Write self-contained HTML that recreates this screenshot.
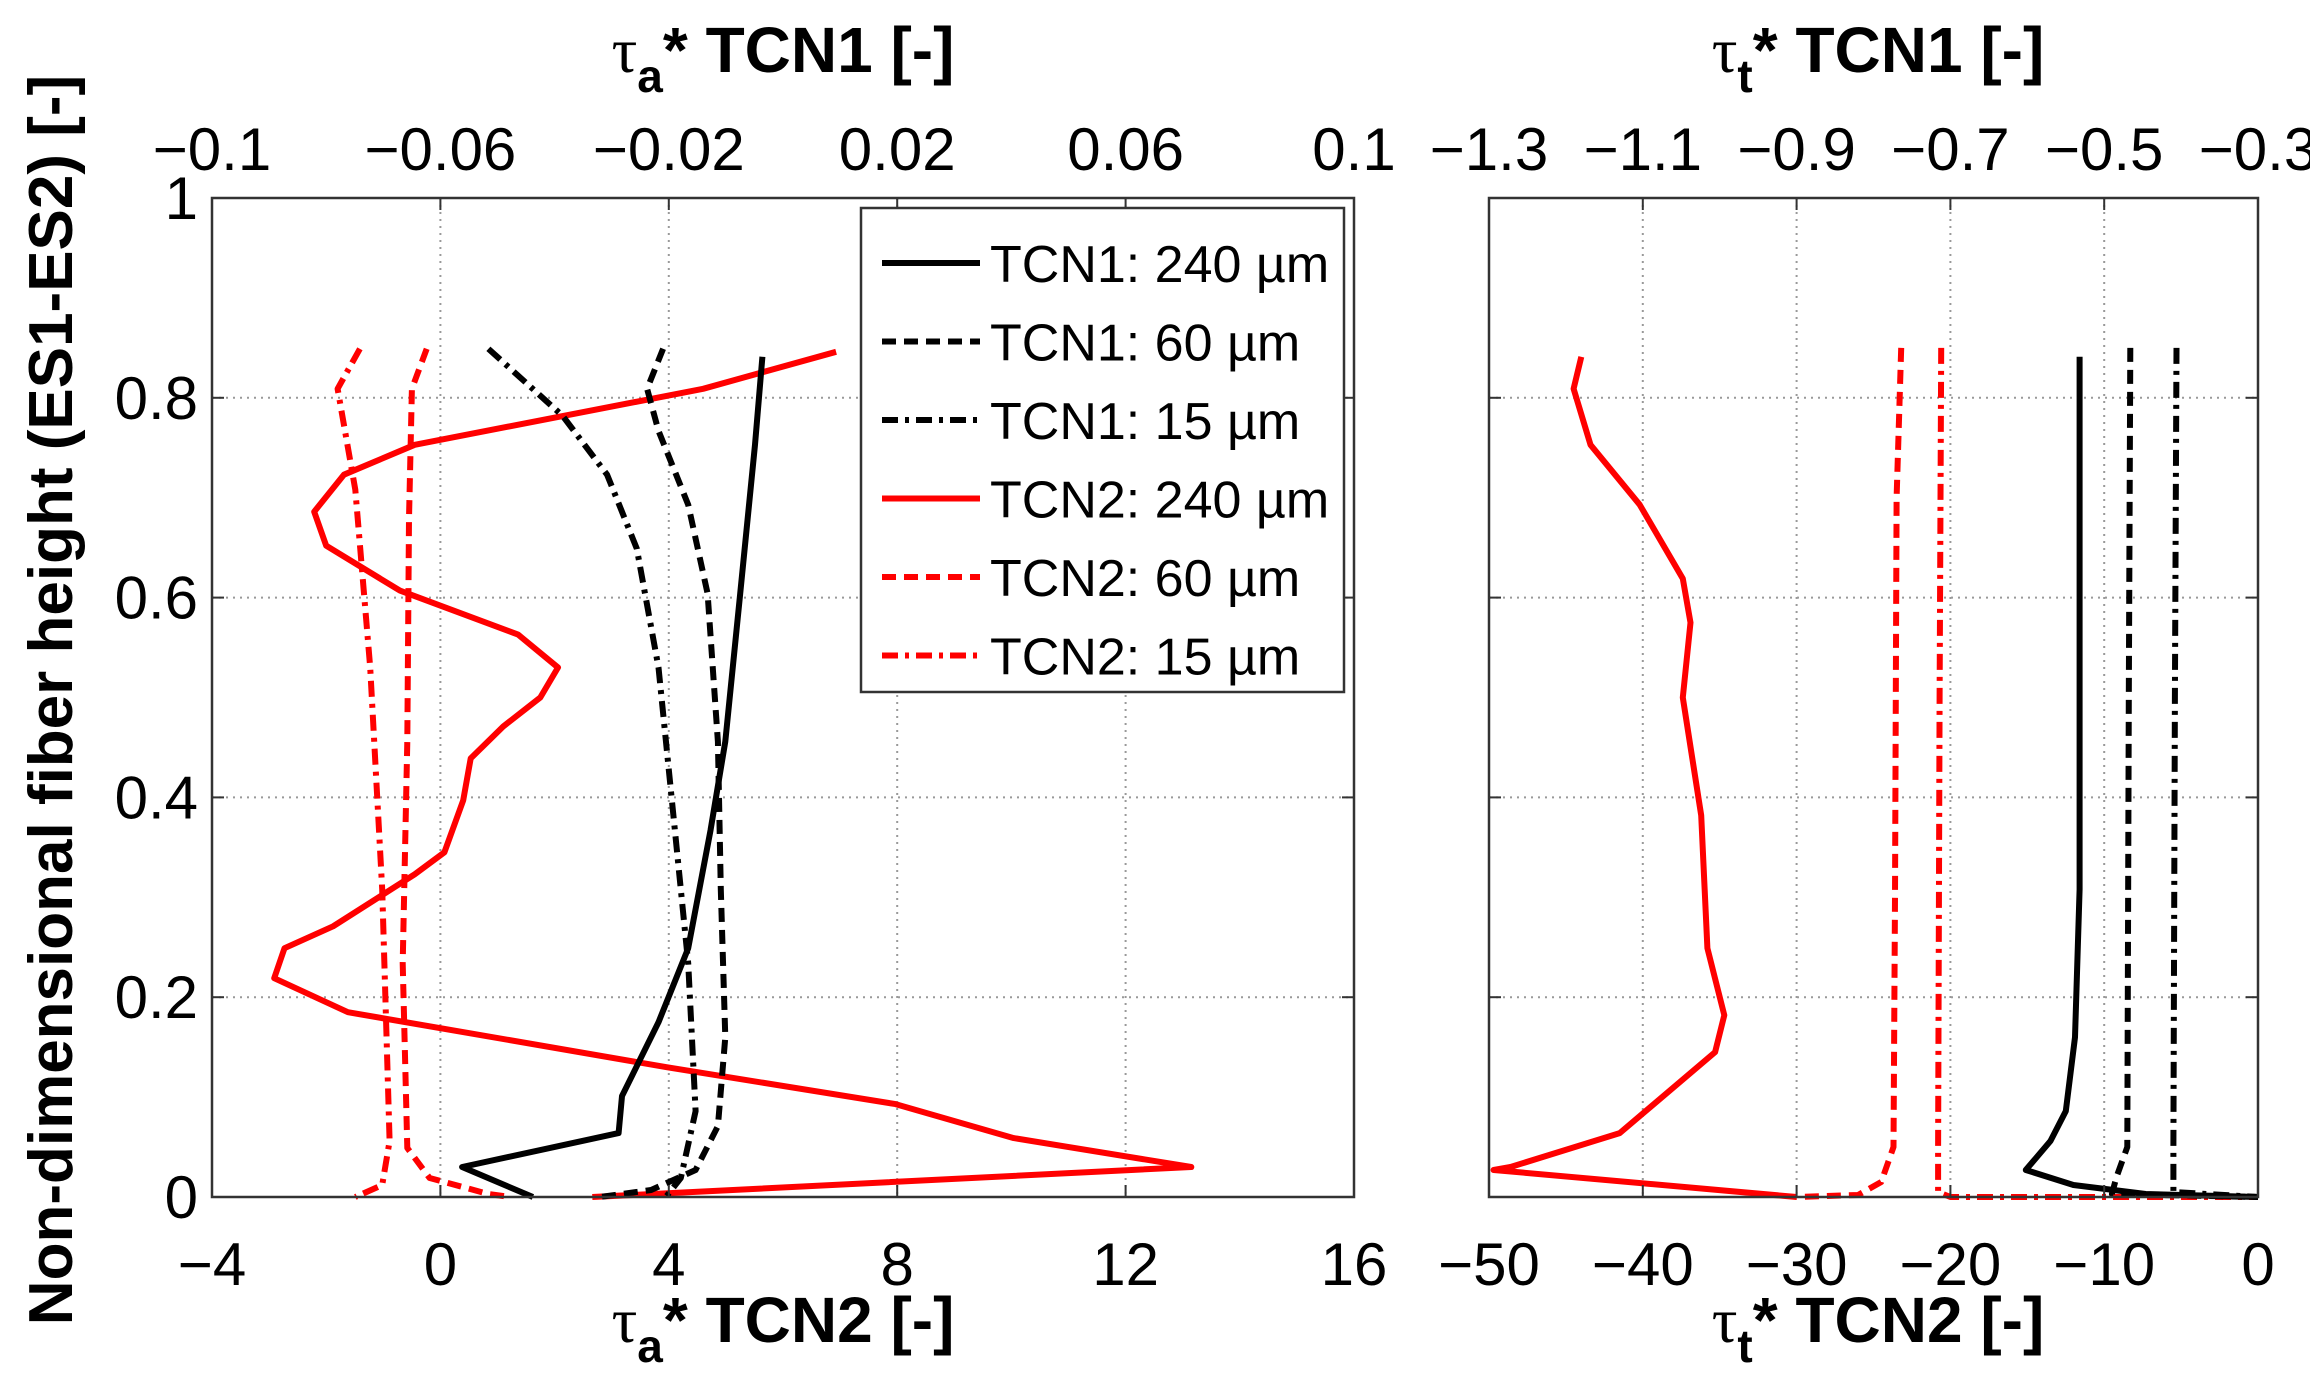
<!DOCTYPE html>
<html><head><meta charset="utf-8"><style>
html,body{margin:0;padding:0;background:#fff;}
svg{display:block;font-family:"Liberation Sans","DejaVu Sans",sans-serif;}
</style></head><body>
<svg id="chart" width="2310" height="1399" viewBox="0 0 2310 1399" xmlns="http://www.w3.org/2000/svg">
<rect width="2310" height="1399" fill="#fff"/>
<g id="grid"></g>
<g id="series"></g>
<g id="frames"></g>
<g id="ticks"></g>
<text transform="translate(72,700) rotate(-90)" text-anchor="middle" font-size="62" font-weight="bold">Non-dimensional fiber height (ES1-ES2) [-]</text>
<text x="783" y="72" text-anchor="middle" font-size="64" font-weight="bold"><tspan font-weight="normal" font-family="Liberation Serif, serif">τ</tspan><tspan dy="20" font-size="46">a</tspan><tspan dy="-20">* TCN1 [-]</tspan></text>
<text x="783" y="1342" text-anchor="middle" font-size="64" font-weight="bold"><tspan font-weight="normal" font-family="Liberation Serif, serif">τ</tspan><tspan dy="20" font-size="46">a</tspan><tspan dy="-20">* TCN2 [-]</tspan></text>
<text x="1878" y="72" text-anchor="middle" font-size="64" font-weight="bold"><tspan font-weight="normal" font-family="Liberation Serif, serif">τ</tspan><tspan dy="20" font-size="46">t</tspan><tspan dy="-20">* TCN1 [-]</tspan></text>
<text x="1878" y="1342" text-anchor="middle" font-size="64" font-weight="bold"><tspan font-weight="normal" font-family="Liberation Serif, serif">τ</tspan><tspan dy="20" font-size="46">t</tspan><tspan dy="-20">* TCN2 [-]</tspan></text>
<g id="legend"></g>
</svg>
<script>
// ---- data ----
const yTicks = [0, 0.2, 0.4, 0.6, 0.8, 1];
const yTickLabels = ["0", "0.2", "0.4", "0.6", "0.8", "1"];
const leftBottomTicks = [-4, 0, 4, 8, 12, 16];
const leftTopTicks = [-0.1, -0.06, -0.02, 0.02, 0.06, 0.1];
const leftTopLabels = ["\u22120.1", "\u22120.06", "\u22120.02", "0.02", "0.06", "0.1"];
const rightBottomTicks = [-50, -40, -30, -20, -10, 0];
const rightTopTicks = [-1.3, -1.1, -0.9, -0.7, -0.5, -0.3];
const rightTopLabels = ["\u22121.3", "\u22121.1", "\u22120.9", "\u22120.7", "\u22120.5", "\u22120.3"];
const legendLabels = ["TCN1: 240 \u00b5m", "TCN1: 60 \u00b5m", "TCN1: 15 \u00b5m", "TCN2: 240 \u00b5m", "TCN2: 60 \u00b5m", "TCN2: 15 \u00b5m"];

// left panel: TCN1 in top-axis units, TCN2 in bottom-axis units
const aT1_240_x = [-0.0036, -0.0049, -0.0075, -0.0101, -0.0127, -0.0166, -0.0218, -0.0282, -0.0288, -0.0562, -0.0438];
const aT1_240_y = [0.841, 0.753, 0.604, 0.456, 0.367, 0.249, 0.175, 0.101, 0.064, 0.030, 0];
const aT1_60_x = [-0.021, -0.0238, -0.0218, -0.0166, -0.0132, -0.0114, -0.0109, -0.0101, -0.0114, -0.0153, -0.0231, -0.0321];
const aT1_60_y = [0.849, 0.809, 0.767, 0.693, 0.604, 0.456, 0.308, 0.16, 0.071, 0.027, 0.007, 0];
const aT1_15_x = [-0.0516, -0.0386, -0.0308, -0.0256, -0.0218, -0.0192, -0.0166, -0.0153, -0.0179, -0.0205];
const aT1_15_y = [0.849, 0.782, 0.723, 0.649, 0.53, 0.382, 0.234, 0.086, 0.019, 0];
const aT2_240_x = [6.93, 4.6, -0.45, -1.69, -2.21, -2.0, -0.71, 1.36, 2.06, 1.75, 1.1, 0.53, 0.40, 0.07, -0.45, -1.88, -2.73, -2.91, -1.62, 3.95, 7.97, 10.04, 13.15, 2.66];
const aT2_240_y = [0.846, 0.809, 0.753, 0.723, 0.686, 0.652, 0.607, 0.563, 0.530, 0.50, 0.471, 0.439, 0.397, 0.345, 0.323, 0.271, 0.249, 0.219, 0.185, 0.130, 0.093, 0.059, 0.030, 0];
const aT2_60_x = [-0.24, -0.5, -0.55, -0.58, -0.66, -0.58, -0.19, 0.84, 1.23];
const aT2_60_y = [0.849, 0.809, 0.679, 0.456, 0.234, 0.049, 0.019, 0.003, 0];
const aT2_15_x = [-1.41, -1.8, -1.49, -1.23, -1.02, -0.89, -1.02, -1.49];
const aT2_15_y = [0.849, 0.809, 0.708, 0.53, 0.308, 0.056, 0.012, 0];

// right panel
const tT1_240_x = [-0.532, -0.532, -0.538, -0.55, -0.57, -0.602, -0.54, -0.446, -0.3];
const tT1_240_y = [0.841, 0.308, 0.16, 0.086, 0.056, 0.027, 0.012, 0.003, 0];
const tT1_60_x = [-0.466, -0.468, -0.47, -0.484, -0.49, -0.3];
const tT1_60_y = [0.85, 0.5, 0.05, 0.02, 0.003, 0];
const tT1_15_x = [-0.406, -0.408, -0.41, -0.41, -0.3];
const tT1_15_y = [0.85, 0.5, 0.05, 0.005, 0];
const tT2_240_x = [-44.0, -44.5, -43.4, -40.2, -37.4, -36.9, -37.4, -36.2, -35.8, -34.7, -35.3, -41.5, -48.6, -49.7, -30];
const tT2_240_y = [0.841, 0.809, 0.753, 0.693, 0.619, 0.575, 0.50, 0.382, 0.249, 0.182, 0.145, 0.064, 0.030, 0.027, 0];
const tT2_60_x = [-23.2, -23.5, -23.6, -23.7, -24.5, -26, -30];
const tT2_60_y = [0.85, 0.7, 0.3, 0.05, 0.015, 0.002, 0];
const tT2_15_x = [-20.6, -20.7, -20.8, -20.8, -20, 0];
const tT2_15_y = [0.85, 0.5, 0.05, 0.005, 0, 0];

// ---- layout ----
const NS = "http://www.w3.org/2000/svg";
const PT = 198, PB = 1197;
const L = {x0: 212, x1: 1354}, R = {x0: 1489, x1: 2258};
const yS = v => PB - v * (PB - PT);
const lin = (d0, d1, r0, r1) => v => r0 + (v - d0) / (d1 - d0) * (r1 - r0);
const lB = lin(-4, 16, L.x0, L.x1), lT = lin(-0.1, 0.1, L.x0, L.x1);
const rB = lin(-50, 0, R.x0, R.x1), rT = lin(-1.3, -0.3, R.x0, R.x1);

function mk(tag, attrs, parent) {
  const e = document.createElementNS(NS, tag);
  for (const k in attrs) e.setAttribute(k, attrs[k]);
  parent.appendChild(e);
  return e;
}
const gGrid = document.getElementById('grid'), gSer = document.getElementById('series');
const gFr = document.getElementById('frames'), gTk = document.getElementById('ticks');
const gLeg = document.getElementById('legend');

function panel(P, bScale, bTicks, tScale, tTicks, tLabels, name, showY) {
  bTicks.forEach(t => {
    const x = bScale(t);
    const gl = mk('line', {x1: x, x2: x, y1: PT, y2: PB, stroke: '#999', 'stroke-width': 2, 'stroke-dasharray': '2,5'}, gGrid);
    
    
    const lb = mk('text', {x: x, y: 1285, 'text-anchor': 'middle', 'font-size': 60}, gTk);
    lb.textContent = String(t).replace('-', '\u2212');
    
    
    mk('line', {x1: x, x2: x, y1: PB, y2: PB - 12, stroke: '#333', 'stroke-width': 2}, gTk);
    mk('line', {x1: x, x2: x, y1: PT, y2: PT + 12, stroke: '#333', 'stroke-width': 2}, gTk);
  });
  tTicks.forEach((t, i) => {
    const lb = mk('text', {x: tScale(t), y: 170, 'text-anchor': 'middle', 'font-size': 60}, gTk);
    lb.textContent = tLabels[i];
    
    
  });
  yTicks.forEach((v, i) => {
    const y = yS(v);
    if (v > 0 && v < 1) {
      const gl = mk('line', {x1: P.x0, x2: P.x1, y1: y, y2: y, stroke: '#999', 'stroke-width': 2, 'stroke-dasharray': '2,5'}, gGrid);
      
      
    }
    mk('line', {x1: P.x0, x2: P.x0 + 12, y1: y, y2: y, stroke: '#333', 'stroke-width': 2}, gTk);
    mk('line', {x1: P.x1, x2: P.x1 - 12, y1: y, y2: y, stroke: '#333', 'stroke-width': 2}, gTk);
    if (showY) {
      const lb = mk('text', {x: P.x0 - 14, y: y + 21, 'text-anchor': 'end', 'font-size': 60}, gTk);
      lb.textContent = yTickLabels[i];
      
      
    }
  });
  const fr = mk('rect', {x: P.x0, y: PT, width: P.x1 - P.x0, height: PB - PT, fill: 'none', stroke: '#333', 'stroke-width': 2.5}, gFr);
  
  
}
panel(L, lB, leftBottomTicks, lT, leftTopTicks, leftTopLabels, 'left-panel', true);
panel(R, rB, rightBottomTicks, rT, rightTopTicks, rightTopLabels, 'right-panel', false);

const DASH = '14,8', DASHDOT = '16,7,4,7';
function series(xs, ys, sx, color, dash, name) {
  const d = xs.map((v, i) => (i ? 'L' : 'M') + sx(v).toFixed(1) + ',' + yS(ys[i]).toFixed(1)).join(' ');
  const p = mk('path', {d: d, fill: 'none', stroke: color, 'stroke-width': 6, 'stroke-linejoin': 'round'}, gSer);
  if (dash) p.setAttribute('stroke-dasharray', dash);
  
  
}
const RED = '#ff0000', BLK = '#000';
series(aT2_240_x, aT2_240_y, lB, RED, null, 'tau-a-tcn2-240um-line');
series(aT2_60_x, aT2_60_y, lB, RED, DASH, 'tau-a-tcn2-60um-line');
series(aT2_15_x, aT2_15_y, lB, RED, DASHDOT, 'tau-a-tcn2-15um-line');
series(aT1_240_x, aT1_240_y, lT, BLK, null, 'tau-a-tcn1-240um-line');
series(aT1_60_x, aT1_60_y, lT, BLK, DASH, 'tau-a-tcn1-60um-line');
series(aT1_15_x, aT1_15_y, lT, BLK, DASHDOT, 'tau-a-tcn1-15um-line');
series(tT2_240_x, tT2_240_y, rB, RED, null, 'tau-t-tcn2-240um-line');
series(tT2_60_x, tT2_60_y, rB, RED, DASH, 'tau-t-tcn2-60um-line');
series(tT2_15_x, tT2_15_y, rB, RED, DASHDOT, 'tau-t-tcn2-15um-line');
series(tT1_240_x, tT1_240_y, rT, BLK, null, 'tau-t-tcn1-240um-line');
series(tT1_60_x, tT1_60_y, rT, BLK, DASH, 'tau-t-tcn1-60um-line');
series(tT1_15_x, tT1_15_y, rT, BLK, DASHDOT, 'tau-t-tcn1-15um-line');

// legend
const lbox = mk('rect', {x: 861, y: 208, width: 483, height: 484, fill: '#fff', stroke: '#333', 'stroke-width': 2.5}, gLeg);


const legStyles = [[BLK, null], [BLK, DASH], [BLK, DASHDOT], [RED, null], [RED, DASH], [RED, DASHDOT]];
legendLabels.forEach((lab, i) => {
  const y = 263 + i * 78.5;
  const ln = mk('line', {x1: 882, x2: 980, y1: y, y2: y, stroke: legStyles[i][0], 'stroke-width': 6}, gLeg);
  if (legStyles[i][1]) ln.setAttribute('stroke-dasharray', legStyles[i][1]);
  
  
  const t = mk('text', {x: 990, y: y + 19, 'font-size': 52}, gLeg);
  t.textContent = lab;
  
  
});
</script>
</body></html>
